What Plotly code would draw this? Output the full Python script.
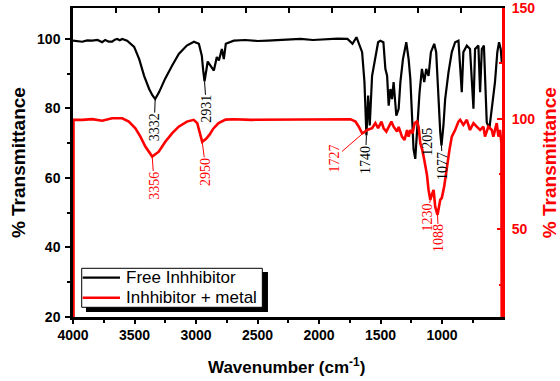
import plotly.graph_objects as go

# FTIR spectra: wavenumber (cm-1) and % transmittance
black_wn = [4000, 3960, 3925, 3885, 3844, 3800, 3763, 3738, 3710, 3682, 3660, 3641, 3620, 3600, 3560,
            3503, 3462, 3422, 3381, 3355, 3332, 3300, 3252, 3195, 3140, 3075, 3017, 2977, 2953, 2942,
            2931, 2905, 2880, 2855, 2831, 2814, 2790, 2774, 2758, 2693, 2600, 2500, 2417, 2300, 2150,
            2050, 1950, 1850, 1769, 1728, 1696, 1650, 1631, 1615, 1601, 1588, 1569, 1542, 1520, 1502,
            1477, 1461, 1447, 1434, 1420, 1407, 1394, 1372, 1353, 1339, 1318, 1291, 1272, 1258, 1245,
            1232, 1218, 1204, 1183, 1164, 1145, 1129, 1110, 1091, 1064, 1048, 1029, 1015, 1005, 989,
            975, 948, 921, 894, 867, 853, 840, 827, 799, 773, 758, 745, 732, 705, 691,
            677, 660, 637, 616, 596, 570, 551, 537, 523, 515]
black_t = [99.5, 99.3, 99.2, 99.6, 99.5, 99.7, 99.05, 99.7, 99.2, 99.2, 99.8, 100.0, 99.6, 100.0, 99.5,
           97.7, 94.2, 89.4, 85.6, 83.8, 82.7, 84.7, 88.5, 92.3, 95.7, 98.1, 99.2, 98.6, 95.2, 91.0,
           87.8, 93.5, 92.0, 90.9, 94.8, 93.8, 97.1, 94.2, 98.6, 99.5, 99.7, 99.4, 99.5, 99.8, 100.0,
           99.7, 99.9, 100.1, 100.0, 98.6, 100.5, 96.2, 87.6, 72.2, 83.7, 75.1, 89.4, 94.2, 99.05, 99.5,
           99.05, 91.4, 89.4, 80.8, 85.6, 82.7, 87.6, 77.9, 79.9, 87.6, 94.2, 99.05, 94.2, 88.5, 77.9,
           68.3, 65.5, 73.2, 84.7, 91.4, 87.6, 91.4, 89.4, 96.2, 98.6, 96.2, 81.9, 73.2, 69.3, 75.1,
           82.7, 90.4, 96.2, 99.05, 99.5, 92.3, 84.7, 96.2, 98.1, 97.1, 88.5, 79.9, 97.1, 98.1, 84.7,
           97.1, 98.1, 76.0, 74.1, 79.9, 87.6, 96.2, 99.05, 97.0, 93.3]

red_wn = [3996, 3996, 3925, 3844, 3763, 3682, 3600, 3546, 3493, 3452, 3412, 3380, 3356, 3303, 3250,
          3195, 3141, 3074, 3019, 2990, 2968, 2950, 2920, 2890, 2860, 2817, 2760, 2693, 2550, 2417,
          2300, 2150, 2000, 1882, 1745, 1704, 1677, 1650, 1635, 1609, 1569, 1542, 1520, 1493, 1475,
          1453, 1434, 1412, 1394, 1366, 1353, 1326, 1305, 1285, 1272, 1258, 1240, 1223, 1204, 1191,
          1177, 1161, 1145, 1123, 1110, 1096, 1083, 1069, 1056, 1037, 1015, 1002, 983, 961, 940,
          921, 894, 867, 853, 827, 799, 773, 745, 718, 691, 664, 651, 624, 596, 583,
          556, 542, 529, 518, 515]
red_t = [0, 99.5, 99.5, 99.8, 99.1, 100.2, 100.2, 98.7, 95.7, 91.9, 87.4, 84.6, 82.9, 85.1, 89.6,
         93.4, 96.4, 98.7, 99.5, 98.0, 93.4, 89.6, 90.8, 92.8, 95.5, 98.0, 99.6, 99.8, 99.5, 99.5,
         99.6, 99.5, 99.7, 99.8, 99.8, 98.7, 96.4, 93.4, 93.8, 94.9, 95.7, 98.0, 95.7, 98.7, 95.7,
         94.2, 96.4, 98.7, 96.4, 94.2, 96.3, 91.9, 90.4, 94.9, 91.9, 94.9, 93.4, 98.0, 98.7, 96.4,
         88.9, 85.9, 81.4, 74.6, 67.8, 63.3, 65.6, 67.8, 60.2, 56.5, 63.3, 64.2, 69.3, 78.3, 85.9,
         91.9, 94.9, 98.7, 99.5, 97.2, 99.5, 94.9, 98.0, 96.4, 94.9, 96.4, 91.9, 96.4, 94.9, 91.9,
         98.0, 91.9, 94.9, 89.1, 0]

series_names = ["Free Inhhibitor", "Inhhibitor + metal"]
x_ticks = [4000, 3500, 3000, 2500, 2000, 1500, 1000]
left_ticks = [20, 40, 60, 80, 100]
right_ticks = [50, 100, 150]

# peak labels: (text, wavenumber of the marked point on that spectrum)
black_peaks = [("3332", 3332), ("2931", 2931), ("1740", 1615), ("1077", 1005)]
red_peaks = [("3356", 3356), ("2950", 2950), ("1727", 1635), ("1230", 1096), ("1088", 1037)]

RED = "#ff0000"
BLACK_W, RED_W = 2.2, 2.6
SANS = "Liberation Sans, Arial, sans-serif"
SERIF = "Liberation Serif, Times New Roman, serif"

fig = go.Figure()
fig.add_trace(go.Scatter(x=black_wn, y=black_t, mode="lines", name=series_names[0],
                         line=dict(color="black", width=BLACK_W), yaxis="y", showlegend=False))
fig.add_trace(go.Scatter(x=red_wn, y=red_t, mode="lines", name=series_names[1],
                         line=dict(color=RED, width=RED_W), yaxis="y2", showlegend=False))
# carrier for the top frame axis
fig.add_trace(go.Scatter(x=[], y=[], xaxis="x2", yaxis="y", showlegend=False, hoverinfo="skip"))

label_offsets = {"3332": (-1, 28), "2931": (2, 28), "1740": (-1, 24), "1077": (1, 20),
                 "3356": (2, 29), "2950": (4, 30), "1727": (-30, 26), "1230": (-3, 17.5),
                 "1088": (1, 23.5)}

annotations = []
for text, wn in black_peaks:
    ax, ay = label_offsets[text]
    annotations.append(dict(x=wn, y=black_t[black_wn.index(wn)], xref="x", yref="y", text=text,
                            textangle=-90, showarrow=True, arrowhead=0, arrowwidth=1,
                            arrowcolor="black", ax=ax, ay=ay, standoff=0, borderpad=0,
                            font=dict(family=SERIF, size=14, color="black")))
for text, wn in red_peaks:
    ax, ay = label_offsets[text]
    annotations.append(dict(x=wn, y=red_t[red_wn.index(wn)], xref="x", yref="y2", text=text,
                            textangle=-90, showarrow=True, arrowhead=0, arrowwidth=1,
                            arrowcolor=RED, ax=ax, ay=ay, standoff=0, borderpad=0,
                            font=dict(family=SERIF, size=14, color=RED)))
annotations.append(dict(x=1120, y=70.5, xref="x", yref="y", text="1205", textangle=-90,
                        showarrow=False, font=dict(family=SERIF, size=14, color="black")))

# axis titles
title_font = dict(family=SANS, size=19, weight="bold")
annotations.append(dict(x=-0.1282, y=0.498, xref="paper", yref="paper", text="% Transmittance",
                        textangle=-90, showarrow=False, xanchor="center", yanchor="middle",
                        font=dict(title_font, color="black")))
annotations.append(dict(x=1.1096, y=0.498, xref="paper", yref="paper", text="% Transmittance",
                        textangle=-90, showarrow=False, xanchor="center", yanchor="middle",
                        font=dict(title_font, color=RED)))
annotations.append(dict(x=0.4988, y=-0.1586, xref="paper", yref="paper",
                        text="Wavenumber (cm<sup>-1</sup>)", showarrow=False,
                        xanchor="center", yanchor="middle",
                        font=dict(family=SANS, size=17, color="black", weight="bold")))

# legend box with drop shadow
legend_rows = [(0.1272, "black", BLACK_W), (0.0625, RED, RED_W)]
shapes = [
    dict(type="rect", xref="paper", yref="paper", x0=0.0303, x1=0.4545, y0=0.0162, y1=0.1456,
         fillcolor="black", line=dict(width=0), layer="above"),
    dict(type="rect", xref="paper", yref="paper", x0=0.0203, x1=0.4413, y0=0.0314, y1=0.1576,
         fillcolor="white", line=dict(color="black", width=1), layer="above"),
]
for (ypos, color, width), name in zip(legend_rows, series_names):
    shapes.append(dict(type="line", xref="paper", yref="paper", x0=0.0226, x1=0.1096,
                       y0=ypos, y1=ypos, line=dict(color=color, width=width), layer="above"))
    annotations.append(dict(x=0.1200, y=ypos, xref="paper", yref="paper", text=name,
                            showarrow=False, xanchor="left", yanchor="middle",
                            font=dict(family=SANS, size=17, color="black")))


def bold(vals):
    return [f"<b>{v}</b>" for v in vals]


tickfont = dict(family=SANS, size=14, color="black")

fig.update_layout(
    template="none",
    width=560, height=381,
    margin=dict(l=73, r=58, t=8, b=64),
    paper_bgcolor="white", plot_bgcolor="white",
    showlegend=False,
    xaxis=dict(range=[4000, 513], tickvals=x_ticks, ticktext=bold(x_ticks), ticks="outside",
               ticklen=4, tickwidth=2, tickcolor="black", showline=True, linecolor="black",
               linewidth=2.5, showgrid=False, zeroline=False, tickfont=tickfont,
               automargin=False, ticklabelstandoff=-1,
               minor=dict(dtick=250, tick0=4000, ticks="outside", ticklen=3, tickwidth=2,
                          tickcolor="black", showgrid=False)),
    xaxis2=dict(overlaying="x", side="top", anchor="y", range=[0, 9.94], dtick=1, tick0=0,
                ticks="inside", ticklen=5, tickwidth=1.5, tickcolor="black",
                showticklabels=False, showline=True, linecolor="black", linewidth=2,
                showgrid=False, zeroline=False, automargin=False),
    yaxis=dict(range=[20, 108.9], tickvals=left_ticks, ticktext=bold(left_ticks),
               ticks="outside", ticklen=5, tickwidth=2, tickcolor="black", showline=True,
               linecolor="black", linewidth=2.5, showgrid=False, zeroline=False,
               tickfont=tickfont, layer="below traces", automargin=False, ticklabelstandoff=2,
               minor=dict(dtick=10, tick0=20, ticks="outside", ticklen=3, tickwidth=2,
                          tickcolor="black", showgrid=False)),
    yaxis2=dict(overlaying="y", side="right", anchor="x", range=[10.3, 150.1],
                tickvals=right_ticks, ticktext=bold(right_ticks), ticks="inside", ticklen=5,
                tickwidth=2, tickcolor=RED, showline=True, linecolor=RED, linewidth=3,
                showgrid=False, zeroline=False, automargin=False,
                tickfont=dict(family=SANS, size=14, color=RED),
                ticklabelstandoff=4,
                minor=dict(dtick=25, tick0=0, ticks="inside", ticklen=3, tickwidth=2,
                           tickcolor=RED, showgrid=False)),
    annotations=annotations,
    shapes=shapes,
)

fig.write_html("out.html")
